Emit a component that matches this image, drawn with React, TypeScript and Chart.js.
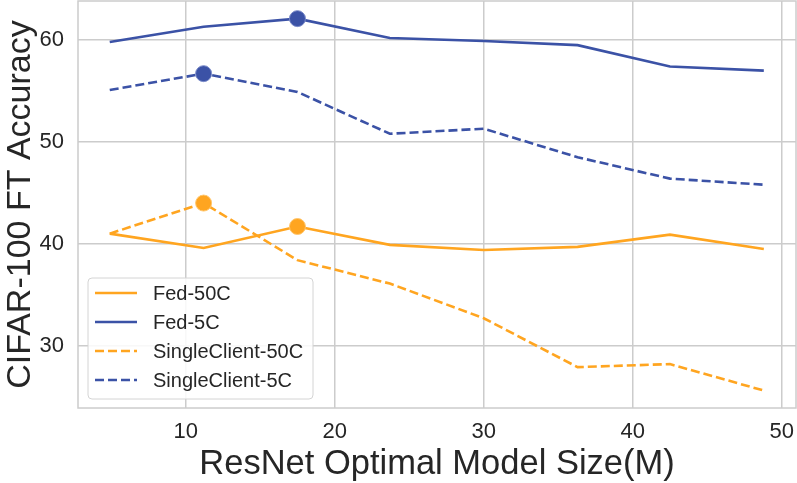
import React, { useEffect, useRef } from 'react';
import { Chart, registerables } from 'chart.js';

Chart.register(...registerables);

const modelSizes = [4.9, 11.2, 17.5, 23.7, 30.0, 36.3, 42.5, 48.8];
const fed50C = [41.0, 39.6, 41.7, 39.9, 39.4, 39.7, 40.9, 39.5];
const fed5C = [59.8, 61.3, 62.1, 60.2, 59.9, 59.5, 57.4, 57.0];
const single50C = [41.0, 44.0, 38.4, 36.1, 32.7, 27.9, 28.2, 25.6];
const single5C = [55.1, 56.7, 54.9, 50.8, 51.3, 48.5, 46.4, 45.8];
const seriesLabels = ['Fed-50C', 'Fed-5C', 'SingleClient-50C', 'SingleClient-5C'];
const bestIndex = [2, 2, 1, 1];
const xTicks = [10, 20, 30, 40, 50];
const yTicks = [30, 40, 50, 60];

const ORANGE = '#FFA520';
const BLUE = '#3B52A6';
const GRID = '#cccccc';
const TEXT = '#262626';
const FONT = '"Liberation Sans", Arial, Helvetica, sans-serif';

const framePlugin = {
  id: 'frame',
  beforeDatasetsDraw(chart: any) {
    const { ctx, chartArea } = chart;
    ctx.save();
    ctx.strokeStyle = GRID;
    ctx.lineWidth = 1.5;
    ctx.strokeRect(chartArea.left, chartArea.top, chartArea.right - chartArea.left, chartArea.bottom - chartArea.top);
    ctx.restore();
  },
};

const legendPlugin = {
  id: 'insideLegend',
  afterDraw(chart: any) {
    const { ctx, chartArea } = chart;
    const x0 = chartArea.left + 10;
    const w = 225;
    const h = 121;
    const y0 = chartArea.bottom - 9 - h;
    ctx.save();
    ctx.beginPath();
    ctx.roundRect(x0, y0, w, h, 4);
    ctx.fillStyle = 'rgba(255,255,255,0.85)';
    ctx.fill();
    ctx.strokeStyle = '#d4d4d4';
    ctx.lineWidth = 1;
    ctx.stroke();
    chart.data.datasets.forEach((ds: any, i: number) => {
      const y = y0 + 15 + i * 29;
      ctx.beginPath();
      ctx.setLineDash(ds.borderDash || []);
      ctx.strokeStyle = ds.borderColor;
      ctx.lineWidth = 2.5;
      ctx.moveTo(x0 + 7, y);
      ctx.lineTo(x0 + 49, y);
      ctx.stroke();
      ctx.setLineDash([]);
      ctx.fillStyle = TEXT;
      ctx.font = `20px ${FONT}`;
      ctx.textBaseline = 'middle';
      ctx.textAlign = 'left';
      ctx.fillText(ds.label, x0 + 65, y + 1);
    });
    ctx.restore();
  },
};

function makeDataset(label: string, values: number[], color: string, dashed: boolean, best: number, edge: string) {
  return {
    label,
    data: modelSizes.map((x, i) => ({ x, y: values[i] })),
    borderColor: color,
    backgroundColor: color,
    borderWidth: 2.6,
    borderDash: dashed ? [9, 4] : [],
    pointRadius: modelSizes.map((_, i) => (i === best ? 8 : 0)),
    pointHoverRadius: modelSizes.map((_, i) => (i === best ? 8 : 0)),
    pointBackgroundColor: color,
    pointBorderColor: edge,
    pointBorderWidth: 1,
    tension: 0,
    fill: false,
  };
}

export default function App() {
  const canvasRef = useRef<HTMLCanvasElement | null>(null);

  useEffect(() => {
    document.body.style.margin = '0';
    const canvas = canvasRef.current;
    if (!canvas) return;
    const chart = new Chart(canvas, {
      type: 'line',
      data: {
        datasets: [
          makeDataset(seriesLabels[0], fed50C, ORANGE, false, bestIndex[0], '#ffc66e'),
          makeDataset(seriesLabels[1], fed5C, BLUE, false, bestIndex[1], '#7d8dca'),
          makeDataset(seriesLabels[2], single50C, ORANGE, true, bestIndex[2], '#ffc66e'),
          makeDataset(seriesLabels[3], single5C, BLUE, true, bestIndex[3], '#7d8dca'),
        ] as any,
      },
      options: {
        animation: false,
        responsive: true,
        maintainAspectRatio: false,
        layout: { padding: { top: 1, right: 1, left: 0, bottom: 0 } },
        plugins: {
          legend: { display: false },
          tooltip: { enabled: false },
        },
        scales: {
          x: {
            type: 'linear',
            min: 2.77,
            max: 50.96,
            afterBuildTicks: (scale: any) => {
              scale.ticks = xTicks.map((v) => ({ value: v }));
            },
            afterFit: (scale: any) => {
              scale.height = 75;
              scale.paddingLeft = 0;
              scale.paddingRight = 0;
              scale.paddingTop = 0;
              scale.paddingBottom = 0;
            },
            grid: { color: GRID, lineWidth: 1.5, drawTicks: false },
            border: { display: false },
            ticks: {
              padding: 11,
              color: TEXT,
              font: { family: FONT, size: 22 },
              maxRotation: 0,
              autoSkip: false,
            },
            title: {
              display: true,
              text: 'ResNet Optimal Model Size(M)',
              color: TEXT,
              font: { family: FONT, size: 34.5, lineHeight: 1.1 },
              padding: { top: 0, bottom: 0 },
            },
          },
          y: {
            type: 'linear',
            min: 23.89,
            max: 63.83,
            afterBuildTicks: (scale: any) => {
              scale.ticks = yTicks.map((v) => ({ value: v }));
            },
            afterFit: (scale: any) => {
              scale.width = 78;
              scale.paddingLeft = 0;
              scale.paddingRight = 0;
              scale.paddingTop = 0;
              scale.paddingBottom = 0;
            },
            grid: { color: GRID, lineWidth: 1.5, drawTicks: false },
            border: { display: false },
            ticks: {
              padding: 14,
              color: TEXT,
              font: { family: FONT, size: 22 },
              autoSkip: false,
            },
            title: {
              display: true,
              text: 'CIFAR-100 FT Accuracy',
              color: TEXT,
              font: { family: FONT, size: 34, lineHeight: 1.1 },
              padding: { top: 1.5, bottom: 0 },
            },
          },
        },
      } as any,
      plugins: [framePlugin, legendPlugin],
    });
    return () => chart.destroy();
  }, []);

  return (
    <div style={{ width: 797, height: 483, position: 'relative' }}>
      <canvas ref={canvasRef} />
    </div>
  );
}
